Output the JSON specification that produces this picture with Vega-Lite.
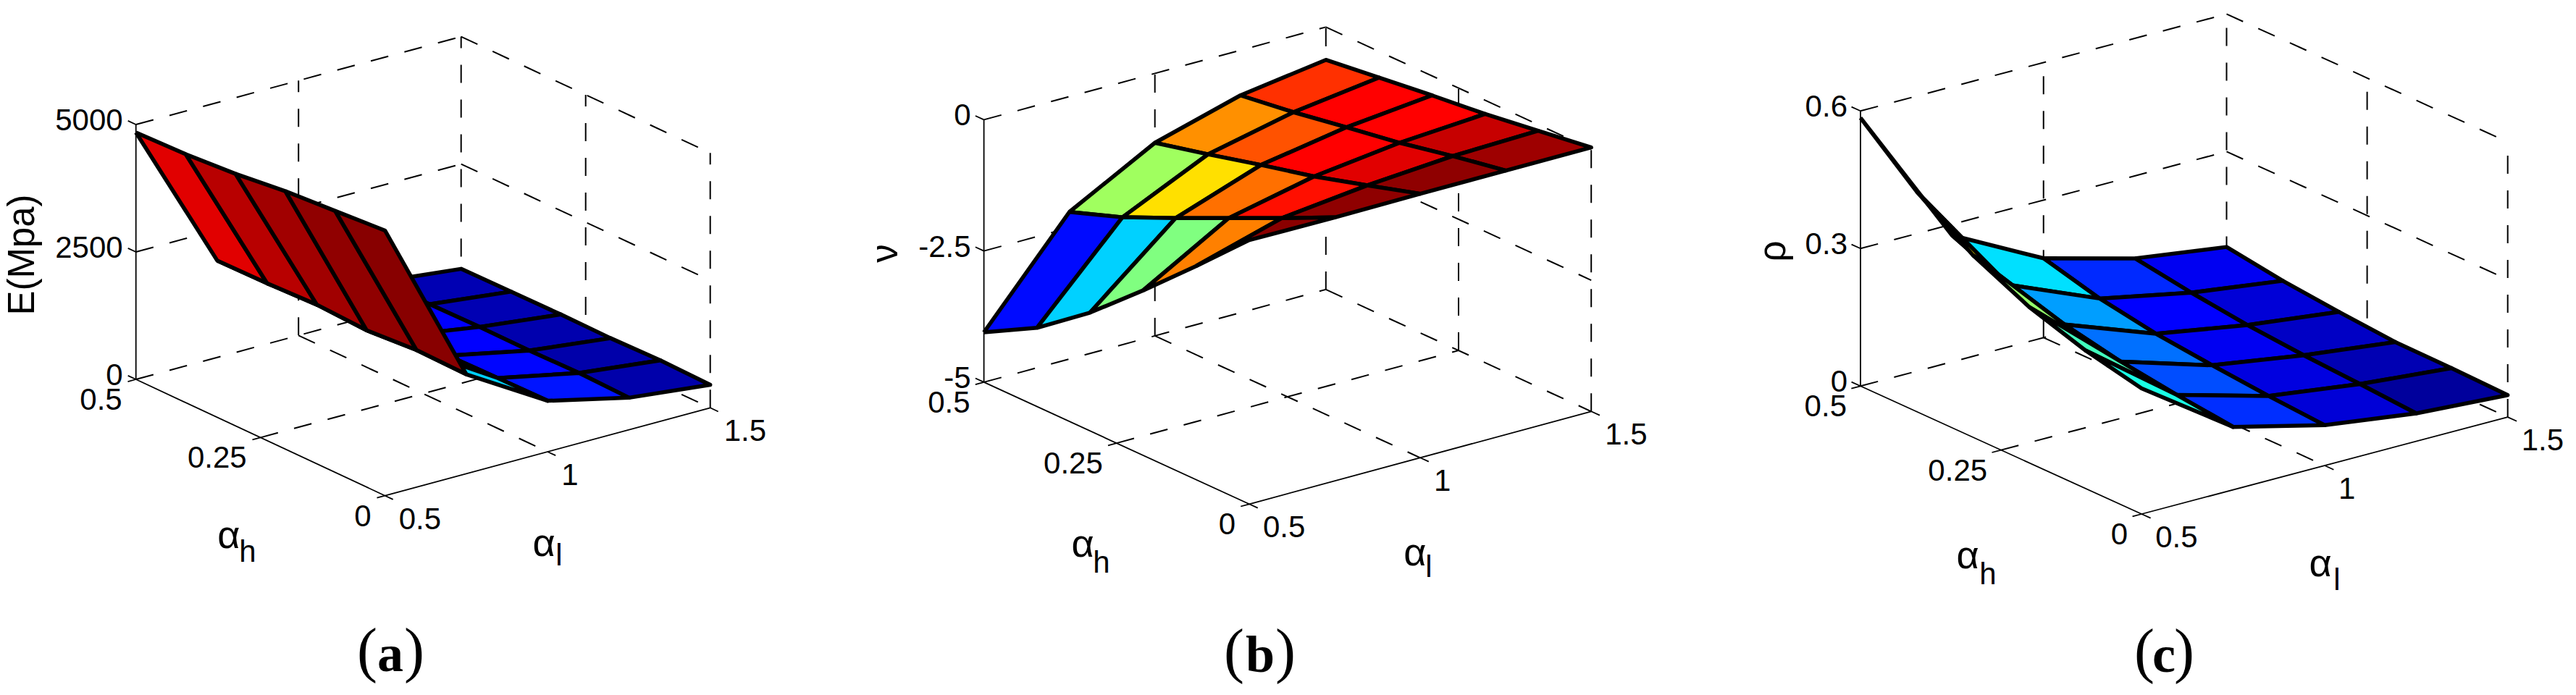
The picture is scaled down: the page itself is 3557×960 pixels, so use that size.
{"$schema":"https://vega.github.io/schema/vega-lite/v6.json","width":3557,"height":960,"padding":0,"autosize":{"type":"fit","contains":"padding"},"background":"white","view":{"stroke":null},
"data":{"values":[
{"k":"g","id":"ag1","p":"a","al":[1,1],"ah":[0.5,0],"z":[0,0],"v":[0,1]},
{"k":"g","id":"ag2","p":"a","al":[0.5,1.5],"ah":[0.25,0.25],"z":[0,0],"v":[0,1]},
{"k":"g","id":"ag3","p":"a","al":[0.5,1.5],"ah":[0.5,0.5],"z":[0,0],"v":[0,1]},
{"k":"g","id":"ag4","p":"a","al":[1.5,1.5],"ah":[0.5,0],"z":[0,0],"v":[0,1]},
{"k":"g","id":"ag5","p":"a","al":[1,1],"ah":[0.5,0.5],"z":[0,5000],"v":[0,1]},
{"k":"g","id":"ag6","p":"a","al":[1.5,1.5],"ah":[0.5,0.5],"z":[0,5000],"v":[0,1]},
{"k":"g","id":"ag7","p":"a","al":[1.5,1.5],"ah":[0.25,0.25],"z":[0,5000],"v":[0,1]},
{"k":"g","id":"ag8","p":"a","al":[1.5,1.5],"ah":[0,0],"z":[0,5000],"v":[0,1]},
{"k":"g","id":"ag9","p":"a","al":[0.5,1.5],"ah":[0.5,0.5],"z":[2500,2500],"v":[0,1]},
{"k":"g","id":"ag10","p":"a","al":[0.5,1.5],"ah":[0.5,0.5],"z":[5000,5000],"v":[0,1]},
{"k":"g","id":"ag11","p":"a","al":[1.5,1.5],"ah":[0.5,0],"z":[2500,2500],"v":[0,1]},
{"k":"g","id":"ag12","p":"a","al":[1.5,1.5],"ah":[0.5,0],"z":[5000,5000],"v":[0,1]},
{"k":"g","id":"bg1","p":"b","al":[1,1],"ah":[0.5,0],"z":[-5,-5],"v":[0,1]},
{"k":"g","id":"bg2","p":"b","al":[0.5,1.5],"ah":[0.25,0.25],"z":[-5,-5],"v":[0,1]},
{"k":"g","id":"bg3","p":"b","al":[0.5,1.5],"ah":[0.5,0.5],"z":[-5,-5],"v":[0,1]},
{"k":"g","id":"bg4","p":"b","al":[1.5,1.5],"ah":[0.5,0],"z":[-5,-5],"v":[0,1]},
{"k":"g","id":"bg5","p":"b","al":[1,1],"ah":[0.5,0.5],"z":[-5,0],"v":[0,1]},
{"k":"g","id":"bg6","p":"b","al":[1.5,1.5],"ah":[0.5,0.5],"z":[-5,0],"v":[0,1]},
{"k":"g","id":"bg7","p":"b","al":[1.5,1.5],"ah":[0.25,0.25],"z":[-5,0],"v":[0,1]},
{"k":"g","id":"bg8","p":"b","al":[1.5,1.5],"ah":[0,0],"z":[-5,0],"v":[0,1]},
{"k":"g","id":"bg9","p":"b","al":[0.5,1.5],"ah":[0.5,0.5],"z":[-2.5,-2.5],"v":[0,1]},
{"k":"g","id":"bg10","p":"b","al":[0.5,1.5],"ah":[0.5,0.5],"z":[0,0],"v":[0,1]},
{"k":"g","id":"bg11","p":"b","al":[1.5,1.5],"ah":[0.5,0],"z":[-2.5,-2.5],"v":[0,1]},
{"k":"g","id":"bg12","p":"b","al":[1.5,1.5],"ah":[0.5,0],"z":[0,0],"v":[0,1]},
{"k":"g","id":"cg1","p":"c","al":[1,1],"ah":[0.5,0],"z":[0,0],"v":[0,1]},
{"k":"g","id":"cg2","p":"c","al":[0.5,1.5],"ah":[0.25,0.25],"z":[0,0],"v":[0,1]},
{"k":"g","id":"cg3","p":"c","al":[0.5,1.5],"ah":[0.5,0.5],"z":[0,0],"v":[0,1]},
{"k":"g","id":"cg4","p":"c","al":[1.5,1.5],"ah":[0.5,0],"z":[0,0],"v":[0,1]},
{"k":"g","id":"cg5","p":"c","al":[1,1],"ah":[0.5,0.5],"z":[0,0.6],"v":[0,1]},
{"k":"g","id":"cg6","p":"c","al":[1.5,1.5],"ah":[0.5,0.5],"z":[0,0.6],"v":[0,1]},
{"k":"g","id":"cg7","p":"c","al":[1.5,1.5],"ah":[0.25,0.25],"z":[0,0.6],"v":[0,1]},
{"k":"g","id":"cg8","p":"c","al":[1.5,1.5],"ah":[0,0],"z":[0,0.6],"v":[0,1]},
{"k":"g","id":"cg9","p":"c","al":[0.5,1.5],"ah":[0.5,0.5],"z":[0.3,0.3],"v":[0,1]},
{"k":"g","id":"cg10","p":"c","al":[0.5,1.5],"ah":[0.5,0.5],"z":[0.6,0.6],"v":[0,1]},
{"k":"g","id":"cg11","p":"c","al":[1.5,1.5],"ah":[0.5,0],"z":[0.3,0.3],"v":[0,1]},
{"k":"g","id":"cg12","p":"c","al":[1.5,1.5],"ah":[0.5,0],"z":[0.6,0.6],"v":[0,1]},

{"k":"x","id":"ax1","p":"a","al":[0.5,0.5],"ah":[0.5,0.5],"z":[0,5000],"v":[0,1]},
{"k":"x","id":"ax2","p":"a","al":[0.5,0.5],"ah":[0.5,0],"z":[0,0],"v":[0,1]},
{"k":"x","id":"ax3","p":"a","al":[0.5,1.5],"ah":[0,0],"z":[0,0],"v":[0,1]},
{"k":"x","id":"ax4","p":"a","al":[0.5,0.5],"ah":[0.5,0.516],"z":[0,0],"v":[0,1]},
{"k":"x","id":"ax5","p":"a","al":[0.5,0.5],"ah":[0.5,0.516],"z":[2500,2500],"v":[0,1]},
{"k":"x","id":"ax6","p":"a","al":[0.5,0.5],"ah":[0.5,0.516],"z":[5000,5000],"v":[0,1]},
{"k":"x","id":"ax7","p":"a","al":[0.5,0.475],"ah":[0.5,0.5],"z":[0,0],"v":[0,1]},
{"k":"x","id":"ax8","p":"a","al":[0.5,0.475],"ah":[0.25,0.25],"z":[0,0],"v":[0,1]},
{"k":"x","id":"ax9","p":"a","al":[0.5,0.475],"ah":[0,0],"z":[0,0],"v":[0,1]},
{"k":"x","id":"ax10","p":"a","al":[0.5,0.5],"ah":[0,-0.016],"z":[0,0],"v":[0,1]},
{"k":"x","id":"ax11","p":"a","al":[1,1],"ah":[0,-0.016],"z":[0,0],"v":[0,1]},
{"k":"x","id":"ax12","p":"a","al":[1.5,1.5],"ah":[0,-0.016],"z":[0,0],"v":[0,1]},
{"k":"x","id":"bx1","p":"b","al":[0.5,0.5],"ah":[0.5,0.5],"z":[-5,0],"v":[0,1]},
{"k":"x","id":"bx2","p":"b","al":[0.5,0.5],"ah":[0.5,0],"z":[-5,-5],"v":[0,1]},
{"k":"x","id":"bx3","p":"b","al":[0.5,1.5],"ah":[0,0],"z":[-5,-5],"v":[0,1]},
{"k":"x","id":"bx4","p":"b","al":[0.5,0.5],"ah":[0.5,0.516],"z":[-5,-5],"v":[0,1]},
{"k":"x","id":"bx5","p":"b","al":[0.5,0.5],"ah":[0.5,0.516],"z":[-2.5,-2.5],"v":[0,1]},
{"k":"x","id":"bx6","p":"b","al":[0.5,0.5],"ah":[0.5,0.516],"z":[0,0],"v":[0,1]},
{"k":"x","id":"bx7","p":"b","al":[0.5,0.475],"ah":[0.5,0.5],"z":[-5,-5],"v":[0,1]},
{"k":"x","id":"bx8","p":"b","al":[0.5,0.475],"ah":[0.25,0.25],"z":[-5,-5],"v":[0,1]},
{"k":"x","id":"bx9","p":"b","al":[0.5,0.475],"ah":[0,0],"z":[-5,-5],"v":[0,1]},
{"k":"x","id":"bx10","p":"b","al":[0.5,0.5],"ah":[0,-0.016],"z":[-5,-5],"v":[0,1]},
{"k":"x","id":"bx11","p":"b","al":[1,1],"ah":[0,-0.016],"z":[-5,-5],"v":[0,1]},
{"k":"x","id":"bx12","p":"b","al":[1.5,1.5],"ah":[0,-0.016],"z":[-5,-5],"v":[0,1]},
{"k":"x","id":"cx1","p":"c","al":[0.5,0.5],"ah":[0.5,0.5],"z":[0,0.6],"v":[0,1]},
{"k":"x","id":"cx2","p":"c","al":[0.5,0.5],"ah":[0.5,0],"z":[0,0],"v":[0,1]},
{"k":"x","id":"cx3","p":"c","al":[0.5,1.5],"ah":[0,0],"z":[0,0],"v":[0,1]},
{"k":"x","id":"cx4","p":"c","al":[0.5,0.5],"ah":[0.5,0.516],"z":[0,0],"v":[0,1]},
{"k":"x","id":"cx5","p":"c","al":[0.5,0.5],"ah":[0.5,0.516],"z":[0.3,0.3],"v":[0,1]},
{"k":"x","id":"cx6","p":"c","al":[0.5,0.5],"ah":[0.5,0.516],"z":[0.6,0.6],"v":[0,1]},
{"k":"x","id":"cx7","p":"c","al":[0.5,0.475],"ah":[0.5,0.5],"z":[0,0],"v":[0,1]},
{"k":"x","id":"cx8","p":"c","al":[0.5,0.475],"ah":[0.25,0.25],"z":[0,0],"v":[0,1]},
{"k":"x","id":"cx9","p":"c","al":[0.5,0.475],"ah":[0,0],"z":[0,0],"v":[0,1]},
{"k":"x","id":"cx10","p":"c","al":[0.5,0.5],"ah":[0,-0.016],"z":[0,0],"v":[0,1]},
{"k":"x","id":"cx11","p":"c","al":[1,1],"ah":[0,-0.016],"z":[0,0],"v":[0,1]},
{"k":"x","id":"cx12","p":"c","al":[1.5,1.5],"ah":[0,-0.016],"z":[0,0],"v":[0,1]},

{"k":"s","id":"a30","p":"a","c":0.04,"al":[1.25,1.25,1.5,1.5,1.25],"ah":[0.5,0.4,0.4,0.5,0.5],"z":[620,638,453,444,620],"v":[0,1,2,3,4]},
{"k":"s","id":"a31","p":"a","c":0.04,"al":[1.25,1.25,1.5,1.5,1.25],"ah":[0.4,0.3,0.3,0.4,0.4],"z":[638,648,462,453,638],"v":[0,1,2,3,4]},
{"k":"s","id":"a32","p":"a","c":0.035,"al":[1.25,1.25,1.5,1.5,1.25],"ah":[0.3,0.2,0.2,0.3,0.3],"z":[648,640,453,462,648],"v":[0,1,2,3,4]},
{"k":"s","id":"a33","p":"a","c":0.03,"al":[1.25,1.25,1.5,1.5,1.25],"ah":[0.2,0.1,0.1,0.2,0.2],"z":[640,658,474,453,640],"v":[0,1,2,3,4]},
{"k":"s","id":"a34","p":"a","c":0.03,"al":[1.25,1.25,1.5,1.5,1.25],"ah":[0.1,0,0,0.1,0.1],"z":[658,629,452,474,658],"v":[0,1,2,3,4]},
{"k":"s","id":"a20","p":"a","c":0.12,"al":[1,1,1.25,1.25,1],"ah":[0.5,0.4,0.4,0.5,0.5],"z":[800,850,638,620,800],"v":[0,1,2,3,4]},
{"k":"s","id":"a21","p":"a","c":0.125,"al":[1,1,1.25,1.25,1],"ah":[0.4,0.3,0.3,0.4,0.4],"z":[850,900,648,638,850],"v":[0,1,2,3,4]},
{"k":"s","id":"a22","p":"a","c":0.125,"al":[1,1,1.25,1.25,1],"ah":[0.3,0.2,0.2,0.3,0.3],"z":[900,973,640,648,900],"v":[0,1,2,3,4]},
{"k":"s","id":"a23","p":"a","c":0.13,"al":[1,1,1.25,1.25,1],"ah":[0.2,0.1,0.1,0.2,0.2],"z":[973,990,658,640,973],"v":[0,1,2,3,4]},
{"k":"s","id":"a24","p":"a","c":0.145,"al":[1,1,1.25,1.25,1],"ah":[0.1,0,0,0.1,0.1],"z":[990,1000,629,658,990],"v":[0,1,2,3,4]},
{"k":"s","id":"a10","p":"a","c":0.3,"al":[0.75,0.75,1,1,0.75],"ah":[0.5,0.4,0.4,0.5,0.5],"z":[1900,1910,850,800,1900],"v":[0,1,2,3,4]},
{"k":"s","id":"a11","p":"a","c":0.3,"al":[0.75,0.75,1,1,0.75],"ah":[0.4,0.3,0.3,0.4,0.4],"z":[1910,1947,900,850,1910],"v":[0,1,2,3,4]},
{"k":"s","id":"a12","p":"a","c":0.31,"al":[0.75,0.75,1,1,0.75],"ah":[0.3,0.2,0.2,0.3,0.3],"z":[1947,1900,973,900,1947],"v":[0,1,2,3,4]},
{"k":"s","id":"a13","p":"a","c":0.32,"al":[0.75,0.75,1,1,0.75],"ah":[0.2,0.1,0.1,0.2,0.2],"z":[1900,1970,990,973,1900],"v":[0,1,2,3,4]},
{"k":"s","id":"a14","p":"a","c":0.33,"al":[0.75,0.75,1,1,0.75],"ah":[0.1,0,0,0.1,0.1],"z":[1970,1950,1000,990,1970],"v":[0,1,2,3,4]},
{"k":"s","id":"a00","p":"a","c":0.905,"al":[0.5,0.5,0.75,0.75,0.5],"ah":[0.5,0.4,0.4,0.5,0.5],"z":[4844,4875,1910,1900,4844],"v":[0,1,2,3,4]},
{"k":"s","id":"a01","p":"a","c":0.945,"al":[0.5,0.5,0.75,0.75,0.5],"ah":[0.4,0.3,0.3,0.4,0.4],"z":[4875,4945,1947,1910,4875],"v":[0,1,2,3,4]},
{"k":"s","id":"a02","p":"a","c":0.968,"al":[0.5,0.5,0.75,0.75,0.5],"ah":[0.3,0.2,0.2,0.3,0.3],"z":[4945,5062,1900,1947,4945],"v":[0,1,2,3,4]},
{"k":"s","id":"a03","p":"a","c":0.984,"al":[0.5,0.5,0.75,0.75,0.5],"ah":[0.2,0.1,0.1,0.2,0.2],"z":[5062,5131,1970,1900,5062],"v":[0,1,2,3,4]},
{"k":"s","id":"a04","p":"a","c":0.992,"al":[0.5,0.5,0.75,0.75,0.5],"ah":[0.1,0,0,0.1,0.1],"z":[5131,5202,1950,1970,5131],"v":[0,1,2,3,4]},

{"k":"s","id":"b30","p":"b","c":0.828,"al":[1.25,1.25,1.5,1.5,1.25],"ah":[0.5,0.4,0.4,0.5,0.5],"z":[-0.86,-0.716,-0.498,-0.625,-0.86],"v":[0,1,2,3,4]},
{"k":"s","id":"b31","p":"b","c":0.875,"al":[1.25,1.25,1.5,1.5,1.25],"ah":[0.4,0.3,0.3,0.4,0.4],"z":[-0.716,-0.539,-0.372,-0.498,-0.716],"v":[0,1,2,3,4]},
{"k":"s","id":"b32","p":"b","c":0.875,"al":[1.25,1.25,1.5,1.5,1.25],"ah":[0.3,0.2,0.2,0.3,0.3],"z":[-0.539,-0.37,-0.262,-0.372,-0.539],"v":[0,1,2,3,4]},
{"k":"s","id":"b33","p":"b","c":0.93,"al":[1.25,1.25,1.5,1.5,1.25],"ah":[0.2,0.1,0.1,0.2,0.2],"z":[-0.37,-0.158,-0.118,-0.262,-0.37],"v":[0,1,2,3,4]},
{"k":"s","id":"b34","p":"b","c":0.97,"al":[1.25,1.25,1.5,1.5,1.25],"ah":[0.1,0,0,0.1,0.1],"z":[-0.158,0.03,0.03,-0.118,-0.158],"v":[0,1,2,3,4]},
{"k":"s","id":"b20","p":"b","c":0.734,"al":[1,1,1.25,1.25,1],"ah":[0.5,0.4,0.4,0.5,0.5],"z":[-1.322,-1.077,-0.716,-0.86,-1.322],"v":[0,1,2,3,4]},
{"k":"s","id":"b21","p":"b","c":0.795,"al":[1,1,1.25,1.25,1],"ah":[0.4,0.3,0.3,0.4,0.4],"z":[-1.077,-0.815,-0.539,-0.716,-1.077],"v":[0,1,2,3,4]},
{"k":"s","id":"b22","p":"b","c":0.875,"al":[1,1,1.25,1.25,1],"ah":[0.3,0.2,0.2,0.3,0.3],"z":[-0.815,-0.57,-0.37,-0.539,-0.815],"v":[0,1,2,3,4]},
{"k":"s","id":"b23","p":"b","c":0.905,"al":[1,1,1.25,1.25,1],"ah":[0.2,0.1,0.1,0.2,0.2],"z":[-0.57,-0.275,-0.158,-0.37,-0.57],"v":[0,1,2,3,4]},
{"k":"s","id":"b24","p":"b","c":0.985,"al":[1,1,1.25,1.25,1],"ah":[0.1,0,0,0.1,0.1],"z":[-0.275,0.03,0.03,-0.158,-0.275],"v":[0,1,2,3,4]},
{"k":"s","id":"b10","p":"b","c":0.532,"al":[0.75,0.75,1,1,0.75],"ah":[0.5,0.4,0.4,0.5,0.5],"z":[-2.198,-1.835,-1.077,-1.322,-2.198],"v":[0,1,2,3,4]},
{"k":"s","id":"b11","p":"b","c":0.655,"al":[0.75,0.75,1,1,0.75],"ah":[0.4,0.3,0.3,0.4,0.4],"z":[-1.835,-1.387,-0.815,-1.077,-1.835],"v":[0,1,2,3,4]},
{"k":"s","id":"b12","p":"b","c":0.765,"al":[0.75,0.75,1,1,0.75],"ah":[0.3,0.2,0.2,0.3,0.3],"z":[-1.387,-0.923,-0.57,-0.815,-1.387],"v":[0,1,2,3,4]},
{"k":"s","id":"b13","p":"b","c":0.86,"al":[0.75,0.75,1,1,0.75],"ah":[0.2,0.1,0.1,0.2,0.2],"z":[-0.923,-0.458,-0.275,-0.57,-0.923],"v":[0,1,2,3,4]},
{"k":"s","id":"b14","p":"b","c":0.985,"al":[0.75,0.75,1,1,0.75],"ah":[0.1,0,0,0.1,0.1],"z":[-0.458,0.02,0.03,-0.275,-0.458],"v":[0,1,2,3,4]},
{"k":"s","id":"b00","p":"b","c":0.135,"al":[0.5,0.5,0.75,0.75,0.5],"ah":[0.5,0.4,0.4,0.5,0.5],"z":[-4.05,-3.5,-1.835,-2.198,-4.05],"v":[0,1,2,3,4]},
{"k":"s","id":"b01","p":"b","c":0.33,"al":[0.5,0.5,0.75,0.75,0.5],"ah":[0.4,0.3,0.3,0.4,0.4],"z":[-3.5,-2.745,-1.387,-1.835,-3.5],"v":[0,1,2,3,4]},
{"k":"s","id":"b02","p":"b","c":0.5,"al":[0.5,0.5,0.75,0.75,0.5],"ah":[0.3,0.2,0.2,0.3,0.3],"z":[-2.745,-1.858,-0.923,-1.387,-2.745],"v":[0,1,2,3,4]},
{"k":"s","id":"b03","p":"b","c":0.75,"al":[0.5,0.5,0.75,0.75,0.5],"ah":[0.2,0.1,0.1,0.2,0.2],"z":[-1.858,-0.929,-0.458,-0.923,-1.858],"v":[0,1,2,3,4]},
{"k":"s","id":"b04","p":"b","c":0.99,"al":[0.5,0.5,0.75,0.75,0.5],"ah":[0.1,0,0,0.1,0.1],"z":[-0.929,0.03,0.02,-0.458,-0.929],"v":[0,1,2,3,4]},

{"k":"s","id":"c30","p":"c","c":0.11,"al":[1.25,1.25,1.5,1.5,1.25],"ah":[0.5,0.4,0.4,0.5,0.5],"z":[0.12,0.101,0.074,0.092,0.12],"v":[0,1,2,3,4]},
{"k":"s","id":"c31","p":"c","c":0.08,"al":[1.25,1.25,1.5,1.5,1.25],"ah":[0.4,0.3,0.3,0.4,0.4],"z":[0.101,0.086,0.062,0.074,0.101],"v":[0,1,2,3,4]},
{"k":"s","id":"c32","p":"c","c":0.06,"al":[1.25,1.25,1.5,1.5,1.25],"ah":[0.3,0.2,0.2,0.3,0.3],"z":[0.086,0.076,0.052,0.062,0.086],"v":[0,1,2,3,4]},
{"k":"s","id":"c33","p":"c","c":0.04,"al":[1.25,1.25,1.5,1.5,1.25],"ah":[0.2,0.1,0.1,0.2,0.2],"z":[0.076,0.069,0.051,0.052,0.076],"v":[0,1,2,3,4]},
{"k":"s","id":"c34","p":"c","c":0.015,"al":[1.25,1.25,1.5,1.5,1.25],"ah":[0.1,0,0,0.1,0.1],"z":[0.069,0.061,0.048,0.051,0.069],"v":[0,1,2,3,4]},
{"k":"s","id":"c20","p":"c","c":0.165,"al":[1,1,1.25,1.25,1],"ah":[0.5,0.4,0.4,0.5,0.5],"z":[0.173,0.141,0.101,0.12,0.173],"v":[0,1,2,3,4]},
{"k":"s","id":"c21","p":"c","c":0.125,"al":[1,1,1.25,1.25,1],"ah":[0.4,0.3,0.3,0.4,0.4],"z":[0.141,0.12,0.086,0.101,0.141],"v":[0,1,2,3,4]},
{"k":"s","id":"c22","p":"c","c":0.11,"al":[1,1,1.25,1.25,1],"ah":[0.3,0.2,0.2,0.3,0.3],"z":[0.12,0.107,0.076,0.086,0.12],"v":[0,1,2,3,4]},
{"k":"s","id":"c23","p":"c","c":0.09,"al":[1,1,1.25,1.25,1],"ah":[0.2,0.1,0.1,0.2,0.2],"z":[0.107,0.096,0.069,0.076,0.107],"v":[0,1,2,3,4]},
{"k":"s","id":"c24","p":"c","c":0.08,"al":[1,1,1.25,1.25,1],"ah":[0.1,0,0,0.1,0.1],"z":[0.096,0.088,0.061,0.069,0.096],"v":[0,1,2,3,4]},
{"k":"s","id":"c10","p":"c","c":0.345,"al":[0.75,0.75,1,1,0.75],"ah":[0.5,0.4,0.4,0.5,0.5],"z":[0.276,0.224,0.141,0.173,0.276],"v":[0,1,2,3,4]},
{"k":"s","id":"c11","p":"c","c":0.28,"al":[0.75,0.75,1,1,0.75],"ah":[0.4,0.3,0.3,0.4,0.4],"z":[0.224,0.193,0.12,0.141,0.224],"v":[0,1,2,3,4]},
{"k":"s","id":"c12","p":"c","c":0.235,"al":[0.75,0.75,1,1,0.75],"ah":[0.3,0.2,0.2,0.3,0.3],"z":[0.193,0.168,0.107,0.12,0.193],"v":[0,1,2,3,4]},
{"k":"s","id":"c13","p":"c","c":0.2,"al":[0.75,0.75,1,1,0.75],"ah":[0.2,0.1,0.1,0.2,0.2],"z":[0.168,0.151,0.096,0.107,0.168],"v":[0,1,2,3,4]},
{"k":"s","id":"c14","p":"c","c":0.17,"al":[0.75,0.75,1,1,0.75],"ah":[0.1,0,0,0.1,0.1],"z":[0.151,0.137,0.088,0.096,0.151],"v":[0,1,2,3,4]},
{"k":"s","id":"c00","p":"c","c":0.9,"al":[0.5,0.5,0.75,0.75,0.5],"ah":[0.5,0.4,0.4,0.5,0.5],"z":[0.585,0.48,0.224,0.276,0.585],"v":[0,1,2,3,4]},
{"k":"s","id":"c01","p":"c","c":0.65,"al":[0.5,0.5,0.75,0.75,0.5],"ah":[0.4,0.3,0.3,0.4,0.4],"z":[0.48,0.397,0.193,0.224,0.48],"v":[0,1,2,3,4]},
{"k":"s","id":"c02","p":"c","c":0.52,"al":[0.5,0.5,0.75,0.75,0.5],"ah":[0.3,0.2,0.2,0.3,0.3],"z":[0.397,0.34,0.168,0.193,0.397],"v":[0,1,2,3,4]},
{"k":"s","id":"c03","p":"c","c":0.44,"al":[0.5,0.5,0.75,0.75,0.5],"ah":[0.2,0.1,0.1,0.2,0.2],"z":[0.34,0.301,0.151,0.168,0.34],"v":[0,1,2,3,4]},
{"k":"s","id":"c04","p":"c","c":0.4,"al":[0.5,0.5,0.75,0.75,0.5],"ah":[0.1,0,0,0.1,0.1],"z":[0.301,0.274,0.137,0.151,0.301],"v":[0,1,2,3,4]},

{"k":"tz","p":"a","t":"0","al":[0.5],"ah":[0.5],"z":[0],"v":[0]},
{"k":"tz","p":"a","t":"2500","al":[0.5],"ah":[0.5],"z":[2500],"v":[0]},
{"k":"tz","p":"a","t":"5000","al":[0.5],"ah":[0.5],"z":[5000],"v":[0]},
{"k":"th","p":"a","t":"0.5","al":[0.5],"ah":[0.5],"z":[0],"v":[0]},
{"k":"th","p":"a","t":"0.25","al":[0.5],"ah":[0.25],"z":[0],"v":[0]},
{"k":"th","p":"a","t":"0","al":[0.5],"ah":[0],"z":[0],"v":[0]},
{"k":"tl","p":"a","t":"0.5","al":[0.5],"ah":[0],"z":[0],"v":[0]},
{"k":"tl","p":"a","t":"1","al":[1],"ah":[0],"z":[0],"v":[0]},
{"k":"tl","p":"a","t":"1.5","al":[1.5],"ah":[0],"z":[0],"v":[0]},
{"k":"tz","p":"b","t":"-5","al":[0.5],"ah":[0.5],"z":[-5],"v":[0]},
{"k":"tz","p":"b","t":"-2.5","al":[0.5],"ah":[0.5],"z":[-2.5],"v":[0]},
{"k":"tz","p":"b","t":"0","al":[0.5],"ah":[0.5],"z":[0],"v":[0]},
{"k":"th","p":"b","t":"0.5","al":[0.5],"ah":[0.5],"z":[-5],"v":[0]},
{"k":"th","p":"b","t":"0.25","al":[0.5],"ah":[0.25],"z":[-5],"v":[0]},
{"k":"th","p":"b","t":"0","al":[0.5],"ah":[0],"z":[-5],"v":[0]},
{"k":"tl","p":"b","t":"0.5","al":[0.5],"ah":[0],"z":[-5],"v":[0]},
{"k":"tl","p":"b","t":"1","al":[1],"ah":[0],"z":[-5],"v":[0]},
{"k":"tl","p":"b","t":"1.5","al":[1.5],"ah":[0],"z":[-5],"v":[0]},
{"k":"tz","p":"c","t":"0","al":[0.5],"ah":[0.5],"z":[0],"v":[0]},
{"k":"tz","p":"c","t":"0.3","al":[0.5],"ah":[0.5],"z":[0.3],"v":[0]},
{"k":"tz","p":"c","t":"0.6","al":[0.5],"ah":[0.5],"z":[0.6],"v":[0]},
{"k":"th","p":"c","t":"0.5","al":[0.5],"ah":[0.5],"z":[0],"v":[0]},
{"k":"th","p":"c","t":"0.25","al":[0.5],"ah":[0.25],"z":[0],"v":[0]},
{"k":"th","p":"c","t":"0","al":[0.5],"ah":[0],"z":[0],"v":[0]},
{"k":"tl","p":"c","t":"0.5","al":[0.5],"ah":[0],"z":[0],"v":[0]},
{"k":"tl","p":"c","t":"1","al":[1],"ah":[0],"z":[0],"v":[0]},
{"k":"tl","p":"c","t":"1.5","al":[1.5],"ah":[0],"z":[0],"v":[0]},

{"k":"title","p":"a","t":"E(Mpa)","al":[0.1532],"ah":[0.5],"z":[3041],"v":[0]},
{"k":"title","p":"b","t":"ν","al":[0.216],"ah":[0.5],"z":[-2.044],"v":[0]},
{"k":"title","p":"c","t":"ρ","al":[0.2646],"ah":[0.5],"z":[0.3439],"v":[0]},
{"k":"alpha","p":"a","t":"α","al":[0.7857],"ah":[0.5],"z":[-3572],"v":[0]},
{"k":"alpha","p":"a","t":"α","al":[1.7546],"ah":[0.5],"z":[-5402],"v":[0]},
{"k":"alpha","p":"b","t":"α","al":[0.7889],"ah":[0.5],"z":[-8.615],"v":[0]},
{"k":"alpha","p":"b","t":"α","al":[1.7608],"ah":[0.5],"z":[-10.497],"v":[0]},
{"k":"alpha","p":"c","t":"α","al":[0.7928],"ah":[0.5],"z":[-0.434],"v":[0]},
{"k":"alpha","p":"c","t":"α","al":[1.7562],"ah":[0.5],"z":[-0.6551],"v":[0]},
{"k":"sub","p":"a","t":"h","al":[0.8436],"ah":[0.5],"z":[-3985],"v":[0]},
{"k":"sub","p":"a","t":"l","al":[1.8012],"ah":[0.5],"z":[-5710],"v":[0]},
{"k":"sub","p":"b","t":"h","al":[0.844],"ah":[0.5],"z":[-9.056],"v":[0]},
{"k":"sub","p":"b","t":"l","al":[1.8012],"ah":[0.5],"z":[-10.83],"v":[0]},
{"k":"sub","p":"c","t":"h","al":[0.8482],"ah":[0.5],"z":[-0.4852],"v":[0]},
{"k":"sub","p":"c","t":"l","al":[1.8017],"ah":[0.5],"z":[-0.6995],"v":[0]},
{"k":"paren","p":"a","t":"(","al":[1.2113],"ah":[0.5],"z":[-6640],"v":[0]},
{"k":"paren","p":"a","t":")","al":[1.3561],"ah":[0.5],"z":[-6888],"v":[0]},
{"k":"paren","p":"b","t":"(","al":[1.2313],"ah":[0.5],"z":[-11.507],"v":[0]},
{"k":"paren","p":"b","t":")","al":[1.3817],"ah":[0.5],"z":[-11.772],"v":[0]},
{"k":"paren","p":"c","t":"(","al":[1.2755],"ah":[0.5],"z":[-0.7524],"v":[0]},
{"k":"paren","p":"c","t":")","al":[1.3843],"ah":[0.5],"z":[-0.7751],"v":[0]},
{"k":"cap","p":"a","t":"a","al":[1.2826],"ah":[0.5],"z":[-6762],"v":[0]},
{"k":"cap","p":"b","t":"b","al":[1.3075],"ah":[0.5],"z":[-11.641],"v":[0]},
{"k":"cap","p":"c","t":"c","al":[1.3289],"ah":[0.5],"z":[-0.7637],"v":[0]}
]},
"transform":[
{"flatten":["al","ah","z","v"]},
{"calculate":"{a:187.7,b:1358.6,c:2569}[datum.p]+(datum.al-0.5)*{a:449,b:472.2,c:505.5}[datum.p]+(0.5-datum.ah)*2*{a:344,b:366.4,c:388.2}[datum.p]","as":"sx"},
{"calculate":"{a:524,b:527.9,c:533.3}[datum.p]+(datum.al-0.5)*{a:-121.4,b:-128,c:-133.9}[datum.p]+(0.5-datum.ah)*2*{a:160.7,b:168.4,c:176.7}[datum.p]-(datum.z-{a:0,b:-5,c:0}[datum.p])/{a:5000,b:5,c:0.6}[datum.p]*{a:352,b:362.5,c:380}[datum.p]","as":"sy"}
],
"encoding":{
"x":{"field":"sx","type":"quantitative","scale":{"domain":[0,3557],"nice":false,"zero":false},"axis":null},
"y":{"field":"sy","type":"quantitative","scale":{"domain":[960,0],"nice":false,"zero":false},"axis":null}
},
"layer":[
{"transform":[{"filter":"datum.k==='g'"}],"mark":{"type":"line","stroke":"black","strokeWidth":2,"strokeDash":[25,23]},"encoding":{"detail":{"field":"id"},"order":{"field":"v","type":"quantitative"}}},
{"transform":[{"filter":"datum.k==='x'"}],"mark":{"type":"line","stroke":"black","strokeWidth":1.8},"encoding":{"detail":{"field":"id"},"order":{"field":"v","type":"quantitative"}}},
{"transform":[{"filter":"datum.k==='s'"}],"mark":{"type":"line","stroke":"black","strokeWidth":5.5,"strokeJoin":"round"},"encoding":{"detail":{"field":"id"},"order":{"field":"v","type":"quantitative"},"fill":{"field":"c","type":"quantitative","legend":null,"scale":{"domain":[0,0.125,0.375,0.625,0.875,1],"range":["#00008f","#0000ff","#00ffff","#ffff00","#ff0000","#800000"],"interpolate":"rgb"}}}},
{"transform":[{"filter":"datum.k==='tz'"}],"mark":{"type":"text","font":"Liberation Sans","fontSize":42,"align":"right","baseline":"middle","dx":-18,"dy":-5},"encoding":{"text":{"field":"t"}}},
{"transform":[{"filter":"datum.k==='th'"}],"mark":{"type":"text","font":"Liberation Sans","fontSize":42,"align":"right","baseline":"middle","dx":-19,"dy":29},"encoding":{"text":{"field":"t"}}},
{"transform":[{"filter":"datum.k==='tl'"}],"mark":{"type":"text","font":"Liberation Sans","fontSize":42,"align":"left","baseline":"middle","dx":19,"dy":33},"encoding":{"text":{"field":"t"}}},
{"transform":[{"filter":"datum.k==='title'"}],"mark":{"type":"text","font":"Liberation Sans","fontSize":51,"align":"center","baseline":"middle","angle":270},"encoding":{"text":{"field":"t"}}},
{"transform":[{"filter":"datum.k==='alpha'"}],"mark":{"type":"text","font":"Liberation Sans","fontSize":54,"align":"center","baseline":"middle"},"encoding":{"text":{"field":"t"}}},
{"transform":[{"filter":"datum.k==='sub'"}],"mark":{"type":"text","font":"Liberation Sans","fontSize":42,"align":"center","baseline":"middle"},"encoding":{"text":{"field":"t"}}},
{"transform":[{"filter":"datum.k==='paren'"}],"mark":{"type":"text","font":"Liberation Serif","fontSize":84,"align":"center","baseline":"middle","dy":-4},"encoding":{"text":{"field":"t"}}},
{"transform":[{"filter":"datum.k==='cap'"}],"mark":{"type":"text","font":"Liberation Serif","fontWeight":"bold","fontSize":72,"align":"center","baseline":"middle"},"encoding":{"text":{"field":"t"}}}
]}
